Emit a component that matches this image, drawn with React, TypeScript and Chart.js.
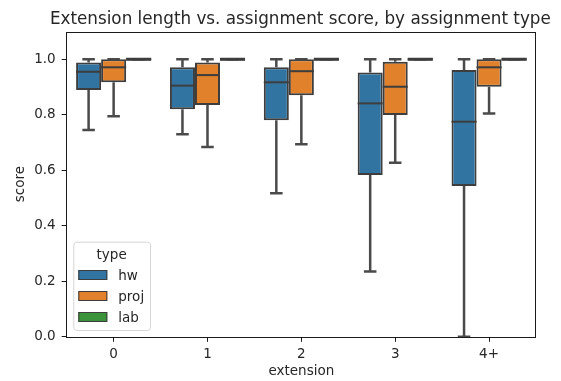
import React, { useEffect, useRef } from 'react';
import { Chart, registerables } from 'chart.js';

Chart.register(...registerables);

const titleText = 'Extension length vs. assignment score, by assignment type';
const categories = ['0', '1', '2', '3', '4+'];
const seriesNames = ['hw', 'proj', 'lab'];
const seriesColors = ['#3274a1', '#e1812c', '#3a923a'];
const yTicks = [0, 0.2, 0.4, 0.6, 0.8, 1.0];

const hwMin = [0.745, 0.73, 0.517, 0.235, 0.0];
const hwQ1 = [0.889, 0.82, 0.78, 0.583, 0.543];
const hwMed = [0.955, 0.905, 0.917, 0.841, 0.775];
const hwQ3 = [0.988, 0.971, 0.971, 0.952, 0.961];
const hwMax = [1.0, 1.0, 1.0, 1.0, 1.0];

const projMin = [0.795, 0.684, 0.694, 0.627, 0.805];
const projQ1 = [0.917, 0.835, 0.87, 0.799, 0.901];
const projMed = [0.971, 0.943, 0.957, 0.901, 0.971];
const projQ3 = [1.0, 0.988, 1.0, 0.991, 1.0];
const projMax = [1.0, 1.0, 1.0, 1.0, 1.0];

const labMin = [1.0, 1.0, 1.0, 1.0, 1.0];
const labQ1 = [1.0, 1.0, 1.0, 1.0, 1.0];
const labMed = [1.0, 1.0, 1.0, 1.0, 1.0];
const labQ3 = [1.0, 1.0, 1.0, 1.0, 1.0];
const labMax = [1.0, 1.0, 1.0, 1.0, 1.0];

const FONT = 'DejaVu Sans';
const TEXT = '#262626';
const EDGE = '#3d3d3d';

const boxWhiskerPlugin = {
  id: 'boxWhisker',
  afterDatasetsDraw(chart: any) {
    const { ctx } = chart;
    const ys = chart.scales.y;
    ctx.save();
    ctx.lineCap = 'butt';
    chart.data.datasets.forEach((ds: any, di: number) => {
      const meta = chart.getDatasetMeta(di);
      meta.data.forEach((el: any, i: number) => {
        const { x, width } = el.getProps(['x', 'width'], true);
        const s = ds.boxStats;
        const yMin = ys.getPixelForValue(s.min[i]);
        const yQ1 = ys.getPixelForValue(s.q1[i]);
        const yMed = ys.getPixelForValue(s.med[i]);
        const yQ3 = ys.getPixelForValue(s.q3[i]);
        const yMax = ys.getPixelForValue(s.max[i]);
        const half = width / 2;
        const cap = width / 4;
        ctx.strokeStyle = '#4a4a4a';
        ctx.lineWidth = 2.5;
        ctx.beginPath();
        if (yMin !== yQ1) { ctx.moveTo(x, yQ1); ctx.lineTo(x, yMin); }
        if (yMax !== yQ3) { ctx.moveTo(x, yQ3); ctx.lineTo(x, yMax); }
        ctx.moveTo(x - cap, yMin); ctx.lineTo(x + cap, yMin);
        ctx.moveTo(x - cap, yMax); ctx.lineTo(x + cap, yMax);
        ctx.stroke();
        ctx.strokeStyle = EDGE;
        ctx.lineWidth = 2;
        ctx.beginPath();
        ctx.moveTo(x - half, yMed); ctx.lineTo(x + half, yMed);
        ctx.stroke();
        if (Math.abs(yQ1 - yQ3) < 0.5) {
          ctx.beginPath();
          ctx.lineWidth = 3;
          ctx.moveTo(x - half, yQ3); ctx.lineTo(x + half, yQ3);
          ctx.stroke();
        }
      });
    });
    ctx.restore();
  },
};

const frameTitlePlugin = {
  id: 'frameTitle',
  afterDraw(chart: any) {
    const { ctx, chartArea: a } = chart;
    ctx.save();
    ctx.strokeStyle = '#1a1a1a';
    ctx.lineWidth = 1;
    ctx.strokeRect(Math.round(a.left) - 0.5, Math.round(a.top) + 0.5, Math.round(a.right - a.left), Math.round(a.bottom - a.top));
    ctx.font = `16.8px "${FONT}"`;
    ctx.fillStyle = TEXT;
    ctx.textAlign = 'center';
    ctx.textBaseline = 'alphabetic';
    ctx.fillText(titleText, (a.left + a.right) / 2 - 1, a.top - 7.5);
    ctx.restore();
  },
};

const legendPlugin = {
  id: 'boxLegend',
  afterDraw(chart: any) {
    const { ctx, chartArea: a } = chart;
    const bx = a.left + 6.6;
    const bw = 76.7;
    const bh = 88.3;
    const by = a.bottom - 6.8 - bh;
    ctx.save();
    ctx.beginPath();
    ctx.roundRect(bx + 0.5, by + 0.5, bw, bh, 3);
    ctx.fillStyle = 'rgba(255,255,255,0.8)';
    ctx.fill();
    ctx.strokeStyle = '#d6d6d6';
    ctx.lineWidth = 1;
    ctx.stroke();
    ctx.font = `13.5px "${FONT}"`;
    ctx.fillStyle = TEXT;
    ctx.textBaseline = 'middle';
    ctx.textAlign = 'center';
    ctx.fillText('type', bx + bw / 2, by + 13.3);
    ctx.textAlign = 'left';
    chart.data.datasets.forEach((ds: any, i: number) => {
      const cy = by + 33.3 + i * 21;
      ctx.fillStyle = ds.backgroundColor;
      ctx.fillRect(bx + 5, cy - 5, 29, 10);
      ctx.strokeStyle = EDGE;
      ctx.lineWidth = 1;
      ctx.strokeRect(bx + 5.5, cy - 4.5, 28, 9);
      ctx.fillStyle = TEXT;
      ctx.fillText(ds.label, bx + 45, cy + 1);
    });
    ctx.restore();
  },
};

export default function App() {
  const ref = useRef<HTMLCanvasElement | null>(null);
  useEffect(() => {
    if (!ref.current) return;
    const all = [
      { min: hwMin, q1: hwQ1, med: hwMed, q3: hwQ3, max: hwMax },
      { min: projMin, q1: projQ1, med: projMed, q3: projQ3, max: projMax },
      { min: labMin, q1: labQ1, med: labMed, q3: labQ3, max: labMax },
    ];
    const datasets = seriesNames.map((name, k) => ({
      label: name,
      data: categories.map((_, i) => [all[k].q1[i], all[k].q3[i]]),
      backgroundColor: seriesColors[k],
      borderColor: EDGE,
      borderWidth: 2,
      borderSkipped: false,
      categoryPercentage: 0.8,
      barPercentage: 1.0,
      boxStats: all[k],
    }));
    const tickFont = { family: FONT, size: 13.5 };
    const chart = new Chart(ref.current, {
      type: 'bar',
      data: { labels: categories, datasets: datasets as any },
      options: {
        responsive: false,
        animation: false,
        devicePixelRatio: 1,
        layout: { padding: { left: 0, right: 25, top: 31.5, bottom: 0 } },
        plugins: {
          legend: { display: false },
          tooltip: { enabled: false },
          title: { display: false },
        },
        scales: {
          x: {
            type: 'category',
            offset: true,
            grid: { display: true, drawOnChartArea: false, drawTicks: true, tickLength: 5, tickColor: '#1a1a1a', offset: false },
            border: { display: false },
            ticks: { font: tickFont, color: TEXT, padding: 5, maxRotation: 0 },
            title: { display: true, text: 'extension', color: TEXT, font: tickFont, padding: { top: 0, bottom: 1 } },
            afterFit: (s: any) => { s.height = 44.2; },
          },
          y: {
            min: 0,
            max: 1.1,
            afterBuildTicks: (s: any) => { s.ticks = yTicks.map((v) => ({ value: v })); },
            ticks: { font: tickFont, color: TEXT, padding: 6, callback: (v: any) => Number(v).toFixed(1) },
            grid: { display: true, drawOnChartArea: false, drawTicks: true, tickLength: 5, tickColor: '#1a1a1a' },
            border: { display: false },
            title: { display: true, text: 'score', color: TEXT, font: tickFont, padding: { top: 12.5, bottom: 0 } },
            afterFit: (s: any) => { s.width = 66.7; },
          },
        },
      } as any,
      plugins: [boxWhiskerPlugin, frameTitlePlugin, legendPlugin],
    });
    return () => chart.destroy();
  }, []);
  return (
    <div style={{ position: 'fixed', left: 0, top: 0, width: 561, height: 381, background: '#fff' }}>
      <canvas ref={ref} width={561} height={381} style={{ display: 'block' }} />
    </div>
  );
}
